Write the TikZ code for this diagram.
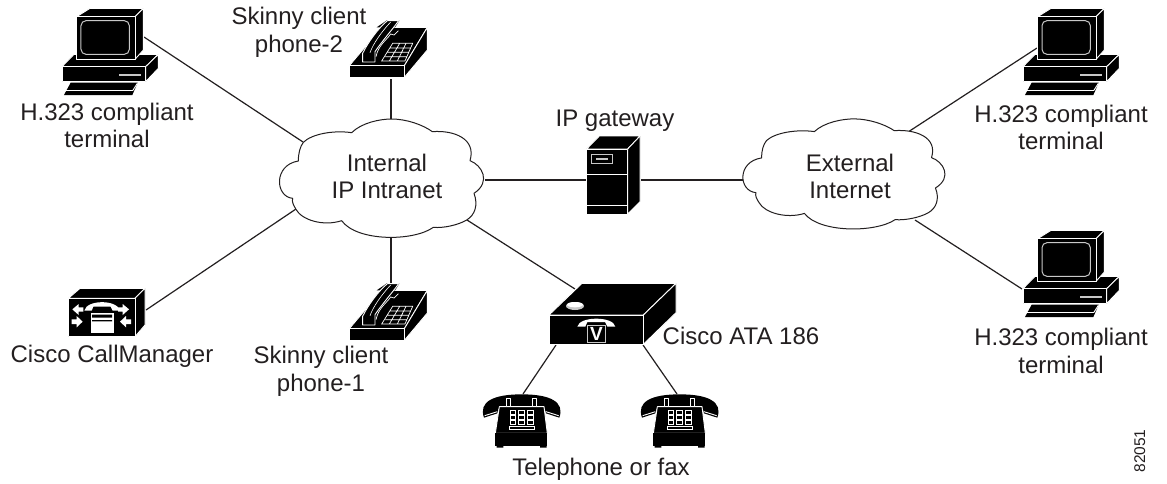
\documentclass[tikz,border=0pt]{standalone}
\usepackage{fontspec}
\setmainfont{Liberation Sans}
\definecolor{ink}{HTML}{231F20}
\definecolor{soft}{HTML}{C8C8C8}
\tikzset{
  lbl/.style={anchor=base,align=center,text=ink,font=\fontsize{24}{27.5}\selectfont,inner sep=0pt},
  conn/.style={draw=ink,line width=1.2pt},
  blk/.style={fill=black,draw=white,line width=0.9pt,line join=round},
  solid black/.style={fill=black,draw=none},
  wline/.style={draw=white,line width=0.9pt},
  gline/.style={draw=soft,line width=1pt},
  wfill/.style={fill=white,draw=none},
  cloudline/.style={draw=ink,fill=white,line width=1pt,line join=round}
}
\newcommand{\cloudshape}{%
  (100,97) .. controls (125,72) and (190,60) .. (245,68)
  .. controls (275,38) and (330,27) .. (365,27)
  .. controls (410,27) and (460,45) .. (487,65)
  .. controls (550,60) and (620,85) .. (600,152)
  .. controls (635,165) and (665,215) .. (612,250)
  .. controls (625,285) and (615,315) .. (590,330)
  .. controls (565,345) and (520,355) .. (490,352)
  .. controls (430,395) and (260,395) .. (215,332)
  .. controls (160,350) and (95,330) .. (78,298)
  .. controls (70,285) and (65,275) .. (68,265)
  .. controls (15,260) and (10,165) .. (85,153)
  .. controls (85,130) and (90,110) .. (100,97) -- cycle}
\newcommand{\computer}[2]{%
  \begin{scope}[shift={(#1,#2)},scale=1/3]
    \path[blk] (186,200) -- (222,163) -- (475,163) -- (437,200) -- cycle;
    \path[blk] (437,200) -- (475,163) -- (475,205) -- (437,245) -- cycle;
    \path[blk] (186,200) rectangle (437,245);
    \draw[gline,line width=1.4pt] (358,225) -- (422,225);
    \path[blk] (230,50) -- (270,25) -- (430,25) -- (405,50) -- cycle;
    \path[blk] (405,50) -- (430,25) -- (430,150) -- (405,178) -- cycle;
    \path[blk] (230,50) rectangle (405,178);
    \draw[gline,rounded corners=5pt] (243,62) rectangle (388,163);
    \path[solid black] (192,285) -- (212,248) -- (413,248) -- (397,285) -- cycle;
    \draw[wline] (197,272) -- (398,272);
    \draw[wline] (398,272) -- (412,250);
  \end{scope}}
\newcommand{\deskset}[2]{%
  \begin{scope}[shift={(#1,#2)},scale=1/3]
    \path[blk] (238,197) -- (335,82) -- (472,82) -- (403,197) -- cycle;
    \path[blk] (403,197) -- (472,82) -- (472,150) -- (403,232) -- cycle;
    \path[blk] (238,197) rectangle (403,232);
    \path[solid black] (320,82) -- (352,60) -- (388,62) -- (375,82) -- cycle;
    \path[blk] (278,160) .. controls (295,125) and (325,85) .. (352,62)
      -- (386,62) .. controls (370,85) and (335,125) .. (315,155)
      -- (315,186) -- (278,186) -- cycle;
    \draw[wline,line width=0.6pt] (300,158) .. controls (310,130) and (335,95) .. (362,66);
    \draw[wline,line width=0.7pt] (318,170) .. controls (325,135) and (350,120) .. (362,102) -- (372,105) -- (385,92);
    \draw[wline,line width=0.7pt]
      (335,183) -- (405,183) -- (428,130) -- (368,130) -- cycle
      (346,170) -- (411,170) (353,157) -- (417,157) (360,144) -- (422,144)
      (358,183) -- (389,130) (382,183) -- (408,130);
  \end{scope}}
\newcommand{\telephone}[2]{%
  \begin{scope}[shift={(#1,#2)},scale=1/3]
    \path[solid black] (42,353) .. controls (25,305) and (70,283) .. (155,283)
      .. controls (240,283) and (285,305) .. (268,353) -- (228,340) -- (224,325)
      -- (86,325) -- (82,340) -- cycle;
    \draw[wline] (44,347) -- (82,335) (266,347) -- (228,335);
    \path[blk] (88,320) -- (222,320) -- (232,400) -- (76,400) -- cycle;
    \path[solid black] (76,400) rectangle (232,437);
    \path[solid black] (80,437) rectangle (100,443) (210,437) rectangle (230,443);
    \path[blk] (108,295) rectangle (122,320) (186,295) rectangle (200,320);
    \draw[wline,line width=0.6pt]
      (120,332) rectangle (137,342) (146,332) rectangle (163,342) (172,332) rectangle (189,342)
      (120,347) rectangle (137,357) (146,347) rectangle (163,357) (172,347) rectangle (189,357)
      (120,362) rectangle (137,372) (146,362) rectangle (163,372) (172,362) rectangle (189,372)
      (118,380) rectangle (192,387);
  \end{scope}}
\begin{document}
\begin{tikzpicture}[x=1pt,y=-1pt]
\useasboundingbox[fill=white] (0,0) rectangle (1167,483);
% connector end points
\coordinate (termA) at (144,37);
\coordinate (cloudA) at (303,142);
\coordinate (phoneB) at (391,79);
\coordinate (cloudB) at (391,119);
\coordinate (cmgr) at (146,310);
\coordinate (cloudC) at (296,209);
\coordinate (cloudD) at (391,238);
\coordinate (phoneA) at (391,290);
\coordinate (cloudE) at (485,180);
\coordinate (gateL) at (586,180);
\coordinate (gateR) at (641,180);
\coordinate (extL) at (743,180);
\coordinate (extT) at (905,134);
\coordinate (termB) at (1037,48);
\coordinate (extB) at (915,220);
\coordinate (termC) at (1022,289);
\coordinate (cloudF) at (467,220);
\coordinate (ataT) at (575,289);
\coordinate (ataL) at (556,345);
\coordinate (ataR) at (643,345);
\coordinate (telL) at (523,394);
\coordinate (telR) at (677,394);
\draw[conn] (termA) -- (cloudA);
\draw[conn] (phoneB) -- (cloudB);
\draw[conn] (cmgr) -- (cloudC);
\draw[conn] (cloudD) -- (phoneA);
\draw[conn] (cloudE) -- (gateL);
\draw[conn] (gateR) -- (extL);
\draw[conn] (extT) -- (termB);
\draw[conn] (extB) -- (termC);
\draw[conn] (cloudF) -- (ataT);
\draw[conn] (ataL) -- (telL);
\draw[conn] (ataR) -- (telR);
% clouds
\begin{scope}[shift={(270,110)},scale=1/3]
  \path[cloudline] \cloudshape;
\end{scope}
\begin{scope}[shift={(733.5,110.5)},xscale=0.33,yscale=0.31]
  \path[cloudline] \cloudshape;
\end{scope}
% terminals
\computer{0}{0}
\computer{961}{0}
\computer{961}{222}
% desk sets
\deskset{270}{0}
\deskset{270}{263}
% telephones
\telephone{470}{300}
\telephone{628}{300}
% gateway
\begin{scope}[shift={(560,130)},scale=1/3]
  \path[blk] (80,57) -- (118,18) -- (240,18) -- (203,57) -- cycle;
  \path[blk] (203,57) -- (240,18) -- (240,215) -- (203,252) -- cycle;
  \path[blk] (80,57) rectangle (203,252);
  \draw[wline] (80,132) -- (203,132) (80,225) -- (203,225);
  \draw[gline,line width=1.2pt] (95,73) rectangle (158,100);
  \draw[gline,line width=1.2pt] (108,87) -- (145,87);
\end{scope}
% call manager
\begin{scope}[shift={(40,280)},scale=1/3]
  \path[blk] (85,55) -- (120,25) -- (315,25) -- (285,55) -- cycle;
  \path[blk] (285,55) -- (315,25) -- (315,135) -- (285,170) -- cycle;
  \path[blk] (85,55) rectangle (285,170);
  \path[wfill] (133,92) .. controls (140,58) and (232,58) .. (240,92)
    -- (218,92) -- (212,80) -- (160,80) -- (155,92) -- cycle;
  \path[wfill] (150,98) rectangle (222,160);
  \path[solid black] (156,104) rectangle (216,113) (156,120) rectangle (216,124);
  \draw[black,line width=0.6pt] (150,98) rectangle (222,160);
  \path[wfill] (97,88) -- (116,72) -- (116,82) -- (130,82) -- (130,95) -- (116,95) -- (116,105) -- cycle;
  \path[wfill] (128,125) -- (110,108) -- (110,118) -- (95,118) -- (95,132) -- (110,132) -- (110,142) -- cycle;
  \path[wfill] (267,88) -- (248,72) -- (248,82) -- (234,82) -- (234,95) -- (248,95) -- (248,105) -- cycle;
  \path[wfill] (240,125) -- (258,108) -- (258,118) -- (273,118) -- (273,132) -- (258,132) -- (258,142) -- cycle;
\end{scope}
% ATA box
\begin{scope}[shift={(470,300)},scale=1/3]
  \path[blk] (237,45) -- (336,-50) -- (618,-50) -- (520,45) -- cycle;
  \path[blk] (520,45) -- (618,-50) -- (618,38) -- (520,133) -- cycle;
  \path[blk] (237,45) rectangle (520,133);
  \path[fill=soft,draw=none] (315,18) ellipse [x radius=27,y radius=12];
  \path[wfill] (315,14) ellipse [x radius=24,y radius=8];
  \path[wfill] (322,80) .. controls (328,48) and (430,48) .. (436,80)
    -- (412,80) -- (405,66) -- (352,66) -- (346,80) -- cycle;
  \path[solid black] (352,72) rectangle (406,128);
  \draw[gline] (352,75) rectangle (406,128);
  \node[text=white,font=\fontsize{19}{19}\bfseries\selectfont,inner sep=0pt] (vmark) at (379,102) {V};
\end{scope}
% labels
\node[lbl] (t1a) at (107,120) {H.323 compliant};
\node[lbl] (t1b) at (107,147) {terminal};
\node[lbl] (t2a) at (1061,122) {H.323 compliant};
\node[lbl] (t2b) at (1061,149) {terminal};
\node[lbl] (t3a) at (1061,345) {H.323 compliant};
\node[lbl] (t3b) at (1061,373) {terminal};
\node[lbl] (s2a) at (299,24) {Skinny client};
\node[lbl] (s2b) at (299,52) {phone-2};
\node[lbl] (s1a) at (321,363) {Skinny client};
\node[lbl] (s1b) at (321,391) {phone-1};
\node[lbl] (ca) at (387,171) {Internal};
\node[lbl] (cb) at (387,198) {IP Intranet};
\node[lbl] (ea) at (850,171) {External};
\node[lbl] (eb) at (850,198) {Internet};
\node[lbl] (gw) at (615,126) {IP gateway};
\node[lbl] (cm) at (112,362) {Cisco CallManager};
\node[lbl,anchor=base west] (ata) at (662.5,344) {Cisco ATA 186};
\node[lbl] (fax) at (601,475) {Telephone or fax};
\node[anchor=base,rotate=90,text=ink,font=\fontsize{15.5}{15.5}\selectfont,inner sep=0pt] (num) at (1145,451) {82051};
\end{tikzpicture}
\end{document}
